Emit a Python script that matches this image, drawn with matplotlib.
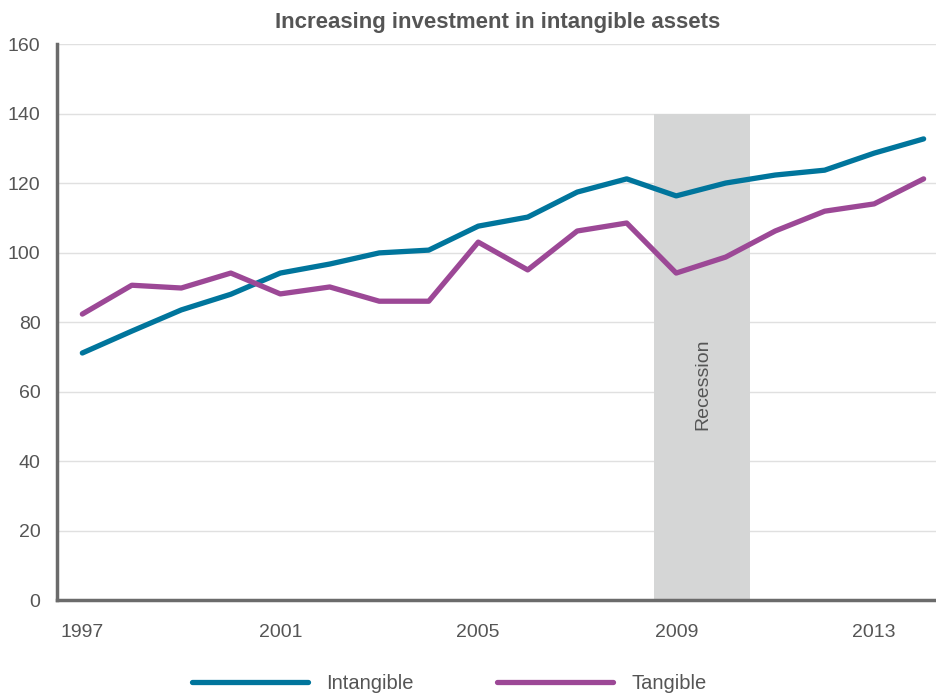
import matplotlib
matplotlib.use('Agg')
import matplotlib.pyplot as plt

years = list(range(1997, 2015))
intangible = [71.1, 77.4, 83.5, 88.0, 94.1, 96.7, 99.9, 100.7, 107.6, 110.2,
              117.4, 121.2, 116.3, 120.0, 122.3, 123.7, 128.6, 132.7]
tangible = [82.3, 90.6, 89.8, 94.1, 88.1, 90.1, 86.0, 86.0, 103.0, 95.0,
            106.2, 108.5, 94.1, 98.7, 106.2, 111.9, 114.0, 121.2]
recession = (2008.56, 2010.5, 140)
xticks = [1997, 2001, 2005, 2009, 2013]
yticks = list(range(0, 161, 20))

plt.rcParams['font.family'] = ['Liberation Sans', 'DejaVu Sans']
gray = '#555555'

fig = plt.figure(figsize=(9.36, 6.93), dpi=100)
ax = fig.add_axes([0.061, 0.134, 0.939, 0.8025])

ax.bar((recession[0] + recession[1]) / 2, recession[2],
       width=recession[1] - recession[0], color='#d5d6d6', zorder=1)
ax.text((recession[0] + recession[1]) / 2, 62, 'Recession', rotation=90,
        ha='center', va='center', fontsize=14, color=gray, zorder=2)

ax.plot(years, intangible, color='#00759c', lw=3.8, label='Intangible',
        solid_capstyle='round', zorder=3)
ax.plot(years, tangible, color='#9c4896', lw=3.8, label='Tangible',
        solid_capstyle='round', zorder=3)

ax.set_xlim(1996.49, 2014.25)
ax.set_ylim(0, 160)
ax.set_xticks(xticks)
ax.set_yticks(yticks)
ax.tick_params(length=0, labelsize=14, labelcolor=gray)
ax.tick_params(axis='x', pad=17)
ax.tick_params(axis='y', pad=12)
ax.grid(axis='y', color='#e0e0e0', lw=1, zorder=0)
ax.set_axisbelow(True)
for s in ['top', 'right']:
    ax.spines[s].set_visible(False)
for s in ['left', 'bottom']:
    ax.spines[s].set_color('#6b6b6b')
    ax.spines[s].set_linewidth(2.5)

fig.suptitle('Increasing investment in intangible assets', x=0.532, y=0.982,
             fontsize=16, fontweight='bold', color=gray)

fig.legend(loc='lower center', bbox_to_anchor=(0.48, -0.026), ncol=2,
           frameon=False, fontsize=14.5, handlelength=5.8, columnspacing=4.1,
           handletextpad=0.9, labelcolor=gray)

fig.savefig('out.png', dpi=100)
